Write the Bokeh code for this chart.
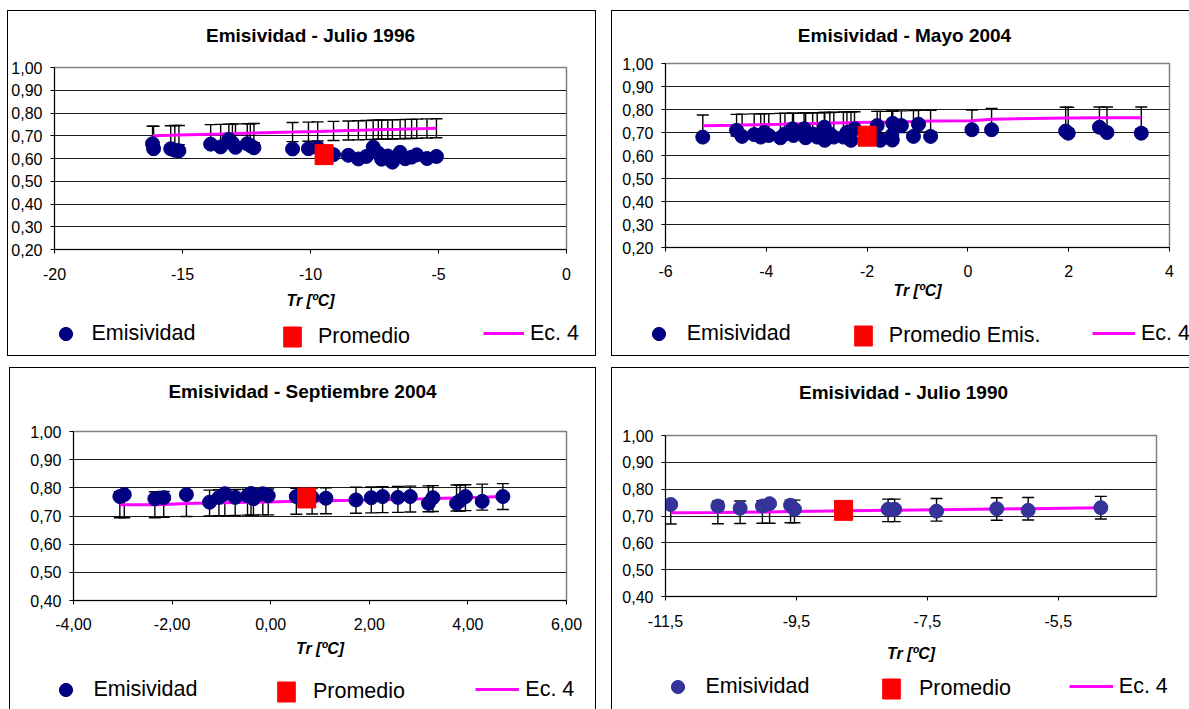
from bokeh.plotting import figure
from bokeh.models import (Range1d, FixedTicker, CustomJSTickFormatter, Label, Legend,
                          LegendItem, Whisker, TeeHead, ColumnDataSource)
from bokeh.layouts import row, column
from bokeh.embed import file_html
from bokeh.resources import INLINE

FONT = "Liberation Sans"
NAN = float("nan")

# ---------------- Panel 1 : Julio 1996 ----------------
tr_1996 = [-16.17, -16.13, -15.46, -15.30, -15.14, -13.90, -13.51, -13.19, -13.05, -12.93,
           -12.47, -12.35, -12.21, -10.70, -10.08, -9.72, -9.10, -8.52, -8.13, -7.82,
           -7.55, -7.35, -7.22, -6.98, -6.80, -6.50, -6.30, -6.05, -5.85, -5.45, -5.08]
emis_1996 = [0.665, 0.643, 0.643, 0.636, 0.634, 0.663, 0.651, 0.684, 0.668, 0.649,
             0.665, 0.657, 0.647, 0.642, 0.643, 0.648, 0.617, 0.614, 0.598, 0.609,
             0.650, 0.623, 0.597, 0.611, 0.584, 0.627, 0.599, 0.606, 0.616, 0.600, 0.609]
ec4_1996 = [0.700, 0.700, 0.702, 0.703, 0.703, 0.707, 0.708, 0.709, 0.709, 0.710,
            0.711, 0.711, 0.712, 0.716, 0.718, 0.719, 0.721, 0.723, 0.724, 0.725,
            0.726, 0.727, 0.727, 0.728, 0.728, 0.729, 0.730, 0.730, 0.731, 0.732, 0.733]
err_1996 = 0.042
prom_1996_x = [-9.47]
prom_1996_y = [0.617]

# ---------------- Panel 2 : Mayo 2004 ----------------
tr_2004m = [-5.26, -4.59, -4.48, -4.24, -4.11, -4.04, -3.95, -3.72, -3.63, -3.48,
            -3.46, -3.25, -3.22, -3.08, -2.99, -2.85, -2.84, -2.74, -2.66, -2.47,
            -2.40, -2.32, -2.25, -1.80, -1.74, -1.51, -1.50, -1.49, -1.32, -1.08,
            -0.98, -0.74, 0.08, 0.47, 1.94, 1.99, 2.61, 2.76, 3.44]
emis_2004m = [0.680, 0.709, 0.683, 0.691, 0.680, 0.700, 0.687, 0.677, 0.694, 0.716,
              0.687, 0.716, 0.677, 0.694, 0.680, 0.723, 0.666, 0.694, 0.680, 0.680,
              0.700, 0.666, 0.716, 0.730, 0.666, 0.687, 0.667, 0.740, 0.730, 0.683,
              0.736, 0.683, 0.712, 0.712, 0.706, 0.697, 0.723, 0.700, 0.697]
ec4_2004m = [0.729, 0.732, 0.733, 0.734, 0.734, 0.735, 0.735, 0.736, 0.737, 0.737,
             0.737, 0.738, 0.738, 0.739, 0.739, 0.740, 0.740, 0.740, 0.741, 0.742,
             0.742, 0.742, 0.743, 0.745, 0.745, 0.746, 0.746, 0.746, 0.747, 0.748,
             0.749, 0.750, 0.751, 0.758, 0.763, 0.763, 0.764, 0.764, 0.764]
err_2004m = 0.047
prom_2004m_x = [-2.0]
prom_2004m_y = [0.684]

# ---------------- Panel 3 : Septiembre 2004 ----------------
tr_2004s = [-3.06, -2.97, -2.35, -2.17, -1.71, -1.24, -1.05, -0.93, -0.72, -0.47,
            -0.40, -0.35, -0.16, -0.05, 0.52, 0.84, 1.12, 1.73, 2.04, 2.27,
            2.58, 2.83, 3.20, 3.29, 3.77, 3.84, 3.95, 4.29, 4.71]
emis_2004s = [0.769, 0.776, 0.761, 0.765, 0.776, 0.749, 0.766, 0.779, 0.766, 0.772,
              0.780, 0.761, 0.779, 0.772, 0.769, 0.766, 0.763, 0.757, 0.765, 0.769,
              0.766, 0.769, 0.745, 0.765, 0.745, 0.754, 0.769, 0.752, 0.769]
ec4_2004s = [0.740, 0.740, 0.740, 0.741, 0.744, 0.746, 0.747, 0.747, 0.748, 0.749,
             0.749, 0.749, 0.750, 0.750, 0.752, 0.753, 0.754, 0.756, 0.757, 0.758,
             0.759, 0.760, 0.761, 0.762, 0.764, 0.764, 0.765, 0.767, 0.769]
err_2004s = 0.046
prom_2004s_x = [0.73]
prom_2004s_y = [0.764]

# ---------------- Panel 4 : Julio 1990 ----------------
tr_1990 = [-11.42, -10.70, -10.36, -10.02, -9.91, -9.59, -9.53, -8.10, -8.00, -7.36,
           -6.44, -5.96, -4.85]
emis_1990 = [0.743, 0.737, 0.729, 0.737, 0.746, 0.740, 0.725, 0.725, 0.725, 0.718,
             0.727, 0.721, 0.731]
ec4_1990 = [0.712, 0.713, 0.714, 0.715, 0.715, 0.717, 0.717, 0.721, 0.721, 0.723,
            0.726, 0.727, 0.731]
err_1990 = 0.042
prom_1990_x = [-8.78]
prom_1990_y = [0.721]

# axis ticks
y_ticks_020 = [0.2, 0.3, 0.4, 0.5, 0.6, 0.7, 0.8, 0.9, 1.0]
y_ticks_040 = [0.4, 0.5, 0.6, 0.7, 0.8, 0.9, 1.0]
x_ticks_1996 = [-20, -15, -10, -5, 0]
x_ticks_2004m = [-6, -4, -2, 0, 2, 4]
x_ticks_2004s = [-4, -2, 0, 2, 4, 6]
x_ticks_1990 = [-11.5, -9.5, -7.5, -5.5]

legend_labels = ["Emisividad", "Promedio", "Ec. 4"]
axis_title = "Tr [ºC]"


def strip(w, h):
    s = figure(width=w, height=h, output_backend="svg", toolbar_location=None,
               x_range=Range1d(0, 1), y_range=Range1d(0, 1),
               x_axis_type=None, y_axis_type=None,
               min_border_left=0, min_border_right=0, min_border_top=0, min_border_bottom=0,
               background_fill_color="white", border_fill_color="white")
    s.frame_align = False
    s.outline_line_color = None
    s.grid.visible = False
    return s


def make_panel(title, tr, emis, ec4, err, px, py, prom_label, dot_color,
               xr, xticks, xdec, yr, yticks, width, heights, margin, borders,
               tick_sd, label_sd, title_xy, leg_pos):
    h_t, h_m, h_b = heights

    # ---- main plot
    p = figure(width=width, height=h_m, output_backend="svg", toolbar_location=None,
               x_range=Range1d(*xr), y_range=Range1d(*yr),
               min_border_left=borders[0], min_border_right=borders[1],
               min_border_top=10, min_border_bottom=borders[2],
               background_fill_color="white", border_fill_color="white")
    p.frame_align = False
    p.outline_line_color = "#808080"
    p.outline_line_width = 1.5

    p.xaxis.ticker = FixedTicker(ticks=xticks)
    p.xaxis.formatter = CustomJSTickFormatter(
        code="return tick.toFixed(%d).replace('.', ',');" % xdec)
    p.yaxis.ticker = FixedTicker(ticks=yticks)
    p.yaxis.formatter = CustomJSTickFormatter(code="return tick.toFixed(2).replace('.', ',');")
    for ax in (p.xaxis[0], p.yaxis[0]):
        ax.axis_line_color = "black"
        ax.axis_line_width = 1
        ax.major_tick_line_color = "black"
        ax.major_tick_out = 4
        ax.major_tick_in = 0
        ax.minor_tick_out = 0
        ax.minor_tick_in = 0
        ax.major_label_text_font = FONT
        ax.major_label_text_font_size = "16px"
        ax.major_label_text_color = "black"
    p.xaxis.major_label_standoff = tick_sd
    p.yaxis.major_label_standoff = 8
    p.xaxis.axis_label = axis_title
    p.xaxis.axis_label_standoff = label_sd
    p.xaxis.axis_label_text_font = FONT
    p.xaxis.axis_label_text_font_size = "16px"
    p.xaxis.axis_label_text_font_style = "bold italic"
    p.xaxis.axis_label_text_color = "black"
    p.xgrid.visible = False
    p.ygrid.ticker = FixedTicker(ticks=yticks[1:-1])
    p.ygrid.grid_line_color = "#1a1a1a"
    p.ygrid.grid_line_width = 1

    src = ColumnDataSource(dict(x=tr, lower=[v - err for v in ec4], upper=[v + err for v in ec4]))
    wk = Whisker(base="x", lower="lower", upper="upper", source=src, dimension="height",
                 line_color="black", line_width=1.4, level="underlay",
                 upper_head=TeeHead(size=12, line_color="black", line_width=1.4),
                 lower_head=TeeHead(size=12, line_color="black", line_width=1.4))
    p.add_layout(wk)

    p.line(tr, ec4, line_color="#FF00FF", line_width=3)
    p.scatter(tr, emis, marker="circle", size=14, fill_color=dot_color, line_color=dot_color)
    p.rect(px, py, width=18, height=20, width_units="screen", height_units="screen",
           fill_color="#FF0000", line_color="#FF0000")

    # ---- title strip
    t = strip(width, h_t)
    t.add_layout(Label(x=title_xy[0], y=title_xy[1], x_units="screen", y_units="screen",
                       text=title, text_align="center", text_baseline="middle",
                       text_font=FONT, text_font_size="19px", text_font_style="bold",
                       text_color="black"))

    # ---- legend strip (legend keys only, no data)
    b = strip(width, h_b)
    k_pts = b.scatter([NAN], [NAN], marker="circle", size=14, fill_color=dot_color,
                      line_color=dot_color)
    k_prom = b.rect([NAN], [NAN], width=18, height=20, width_units="screen",
                    height_units="screen", fill_color="#FF0000", line_color="#FF0000")
    k_line = b.line([NAN, NAN], [NAN, NAN], line_color="#FF00FF", line_width=3)
    specs = [(legend_labels[0], k_pts, 33, 33), (prom_label, k_prom, 22, 25),
             (legend_labels[2], k_line, None, 30)]
    for (lab, rend, gw, gh), (lx, ly, sd, gw2) in zip(specs, leg_pos):
        leg = Legend(items=[LegendItem(label=lab, renderers=[rend])],
                     location=(lx, ly), orientation="horizontal",
                     glyph_width=gw if gw else gw2, glyph_height=gh,
                     label_standoff=sd, label_text_font=FONT,
                     label_text_font_size="21.5px", label_text_color="black",
                     padding=0, margin=0, spacing=0, border_line_color=None,
                     background_fill_alpha=0)
        b.add_layout(leg)

    c = column(t, p, b, spacing=0)
    c.margin = margin
    c.styles = {"outline": "1px solid #000000"}
    return c


c1 = make_panel("Emisividad - Julio 1996", tr_1996, emis_1996, ec4_1996, err_1996,
                prom_1996_x, prom_1996_y, "Promedio", "#000080",
                (-20, 0), x_ticks_1996, 0, (0.2, 1.0), y_ticks_020,
                587, (46, 258, 40), (11, 0, 5, 8), (46, 29, 66), 14, 9,
                (302, 22),
                [(40.5, 5.5, 10, 0), (273, 6.5, 15, 0), (475, 7, 6, 41)])

c2 = make_panel("Emisividad - Mayo 2004", tr_2004m, emis_2004m, ec4_2004m, err_2004m,
                prom_2004m_x, prom_2004m_y, "Promedio Emis.", "#000080",
                (-6, 4), x_ticks_2004m, 0, (0.2, 1.0), y_ticks_020,
                577, (42, 262, 40), (11, 0, 5, 17), (53, 20, 68), 13, 2,
                (292, 18),
                [(29.7, 5.5, 12, 0), (239.8, 7, 15, 0), (480, 7, 6, 43)])

c3 = make_panel("Emisividad - Septiembre 2004", tr_2004s, emis_2004s, ec4_2004s, err_2004s,
                prom_2004s_x, prom_2004s_y, "Promedio", "#000080",
                (-4, 6), x_ticks_2004s, 2, (0.4, 1.0), y_ticks_040,
                585, (53, 250, 38), (8, 0, 0, 10), (63, 29, 71), 13, 7,
                (292, 30),
                [(38.5, 3.5, 12, 0), (265, 4.8, 16, 0), (465.3, 5, 6, 44)])

c4 = make_panel("Emisividad - Julio 1990", tr_1990, emis_1990, ec4_1990, err_1990,
                prom_1990_x, prom_1990_y, "Promedio", "#333399",
                (-11.5, -4.0), x_ticks_1990, 1, (0.4, 1.0), y_ticks_040,
                577, (57, 243, 41), (8, 0, 0, 17), (53, 33, 72), 14, 15,
                (291, 33),
                [(48.5, 6.5, 12, 0), (268, 8, 17, 0), (456.8, 8, 6, 44)])

layout = column(row(c1, c2, spacing=0), row(c3, c4, spacing=0), spacing=0)

with open("out.html", "w") as f:
    f.write(file_html(layout, INLINE))
